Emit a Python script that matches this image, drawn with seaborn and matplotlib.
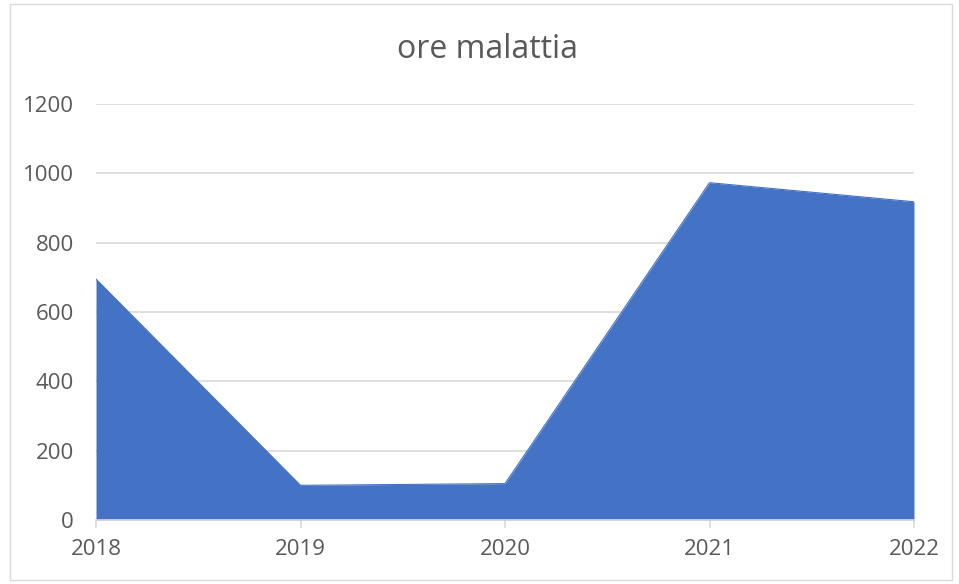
import matplotlib
matplotlib.use("Agg")
import matplotlib.pyplot as plt
import seaborn as sns
import pandas as pd
from matplotlib.patches import Rectangle

years = ["2018", "2019", "2020", "2021", "2022"]
ore = [695, 100, 105, 973, 918]
yticks = [0, 200, 400, 600, 800, 1000, 1200]

sns.set_theme(style="white")
plt.rcParams['font.family'] = ['Open Sans', 'DejaVu Sans']

df = pd.DataFrame({"pos": range(len(years)), "ore": ore})

fig = plt.figure(figsize=(9.59, 5.84), dpi=100)
ax = fig.add_axes([96/959, 1-520/584, (914-96)/959, (520-104)/584])

ax.fill_between(df["pos"], 0, df["ore"], color="#4472C4", linewidth=0, zorder=2)
sns.lineplot(data=df, x="pos", y="ore", ax=ax, color="#4472C4", linewidth=0.8, zorder=3)

ax.set_xlim(0, len(years)-1)
ax.set_ylim(0, 1200)
ax.set_yticks(yticks)
ax.set_yticklabels([str(v) for v in yticks], fontsize=16, color="#595959")
ax.set_xticks(range(len(years)))
ax.set_xticklabels(years, fontsize=16, color="#595959")
ax.set_xlabel("")
ax.set_ylabel("")
ax.grid(axis="y", color="#D9D9D9", linewidth=1.2, zorder=0)
ax.set_axisbelow(True)
for s in ["top", "right", "left"]:
    ax.spines[s].set_visible(False)
ax.spines["bottom"].set_color("#D9D9D9")
ax.spines["bottom"].set_linewidth(1.2)
ax.spines["bottom"].set_zorder(4)
ax.tick_params(axis="x", which="both", bottom=True, length=6, width=1.2, color="#D9D9D9", pad=8)
ax.tick_params(axis="y", length=0, pad=16)
for lab in ax.get_yticklabels():
    lab.set_horizontalalignment("right")

fig.text(487/959, 1-50/584, "ore malattia", ha="center", va="center", fontsize=23, color="#595959")

fig.patches.append(Rectangle((10/959, 4/584), (952-10)/959, (580-4)/584, transform=fig.transFigure,
                             fill=False, edgecolor="#D9D9D9", linewidth=1))

fig.savefig("out.png", dpi=100)
